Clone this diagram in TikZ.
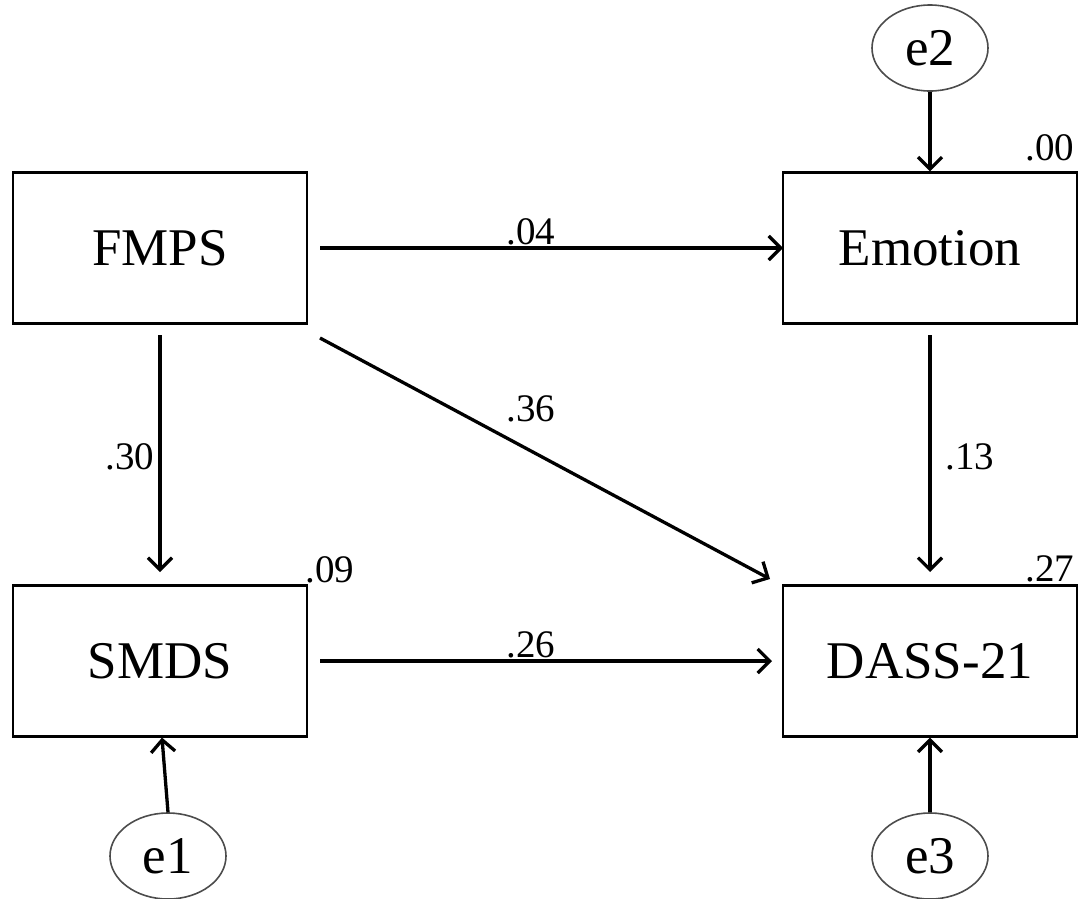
\documentclass[tikz,border=0pt]{standalone}
\usepackage{fontspec}
\setmainfont{Liberation Serif}
\usetikzlibrary{arrows.meta,shapes.geometric}
\begin{document}
\begin{tikzpicture}[x=1pt,y=-1pt,
  varbox/.style={draw,line width=2.2pt,minimum width=294pt,minimum height=151pt,inner sep=0pt,font=\fontsize{53}{60}\selectfont},
  errnode/.style={draw,gray!60!black,line width=1.6pt,ellipse,minimum width=116pt,minimum height=86pt,inner sep=0pt,text=black,font=\fontsize{53}{60}\selectfont},
  path/.style={line width=3.3pt,-{Straight Barb[length=12pt,width=24pt,line width=3.3pt]}},
  coef/.style={font=\fontsize{39}{44}\selectfont,inner sep=0pt}]
\useasboundingbox (0,0) rectangle (1081,898);
\node[varbox] (fmps) at (160,248) {FMPS};
\node[varbox] (emo) at (930,248) {Emotion};
\node[varbox] (smds) at (160,661) {SMDS};
\node[varbox] (dass) at (930,661) {DASS-21};
\node[errnode] (e2) at (930,48) {e2};
\node[errnode] (e1) at (168,856) {e1};
\node[errnode] (e3) at (930,856) {e3};
\coordinate (a1) at (320,248); \coordinate (b1) at (783,248);
\coordinate (a2) at (160,335); \coordinate (b2) at (160,572);
\coordinate (a3) at (320,338); \coordinate (b3) at (770,579);
\coordinate (a4) at (930,335); \coordinate (b4) at (930,572);
\coordinate (a5) at (320,661); \coordinate (b5) at (772,661);
\draw[path] (a1) -- (b1);
\draw[path] (a2) -- (b2);
\draw[path] (a3) -- (b3);
\draw[path] (a4) -- (b4);
\draw[path] (a5) -- (b5);
\draw[path] (e2.south) -- (emo.north);
\draw[path] (e1.north) -- ([xshift=2pt]smds.south);
\draw[path] (e3.north) -- (dass.south);
\node[coef] (l04) at (531,232) {.04};
\node[coef] (l30) at (130,457) {.30};
\node[coef] (l36) at (531,409) {.36};
\node[coef] (l13) at (970,457) {.13};
\node[coef] (l26) at (531,645) {.26};
\node[coef] (l09) at (330,570) {.09};
\node[coef] (l00) at (1050,148) {.00};
\node[coef] (l27) at (1050,569) {.27};
\end{tikzpicture}
\end{document}
